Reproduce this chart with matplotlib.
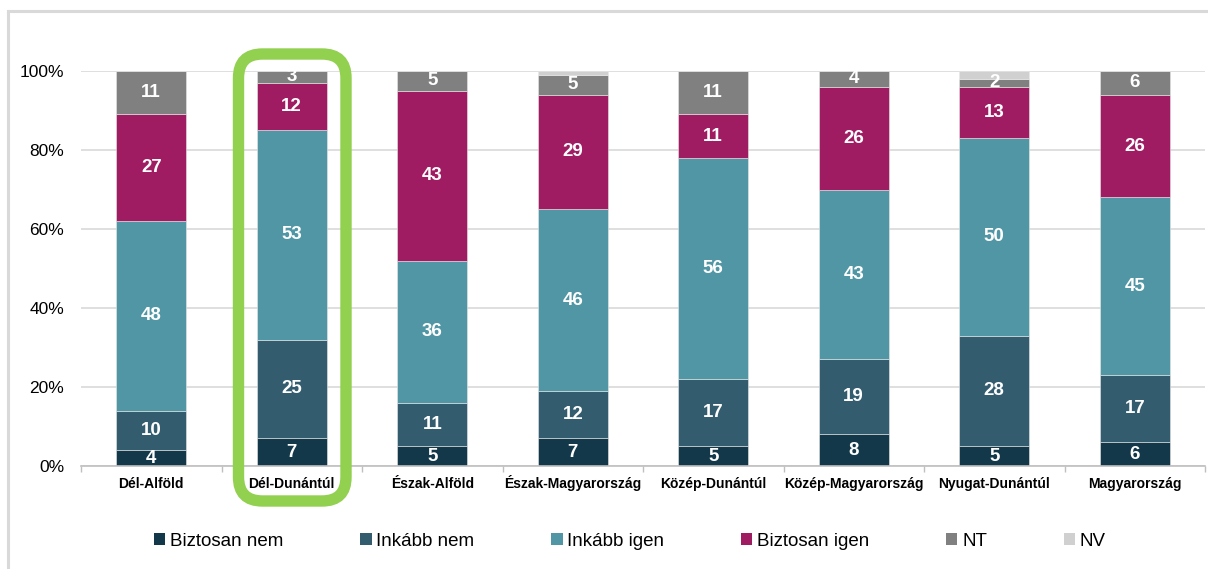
import matplotlib
matplotlib.use("Agg")
import matplotlib.pyplot as plt
import numpy as np
from matplotlib.patches import FancyBboxPatch, Patch
from matplotlib.lines import Line2D
from matplotlib.transforms import IdentityTransform

plt.rcParams['font.family'] = ['Liberation Sans', 'DejaVu Sans']

categories = ["Dél-Alföld", "Dél-Dunántúl", "Észak-Alföld", "Észak-Magyarország",
              "Közép-Dunántúl", "Közép-Magyarország", "Nyugat-Dunántúl", "Magyarország"]
series_names = ["Biztosan nem", "Inkább nem", "Inkább igen", "Biztosan igen", "NT", "NV"]
biztosan_nem = [4, 7, 5, 7, 5, 8, 5, 6]
inkabb_nem = [10, 25, 11, 12, 17, 19, 28, 17]
inkabb_igen = [48, 53, 36, 46, 56, 43, 50, 45]
biztosan_igen = [27, 12, 43, 29, 11, 26, 13, 26]
nt = [11, 3, 5, 5, 11, 4, 2, 6]
nv = [0, 0, 0, 1, 0, 0, 2, 0]
yticks = [0, 20, 40, 60, 80, 100]
colors = ["#12384a", "#335c6e", "#5196a5", "#a01c62", "#808080", "#d0d0d0"]

data = [biztosan_nem, inkabb_nem, inkabb_igen, biztosan_igen, nt, nv]

W, H = 1208, 569
fig = plt.figure(figsize=(W / 100, H / 100), dpi=100)
ax_left, ax_right, ax_top, ax_bottom = 81, 1205, 71, 466
ax = fig.add_axes([ax_left / W, (H - ax_bottom) / H, (ax_right - ax_left) / W, (ax_bottom - ax_top) / H])

x = np.arange(len(categories))
bottom = np.zeros(len(categories))
for vals, col, name in zip(data, colors, series_names):
    v = np.array(vals, dtype=float)
    ax.bar(x, v, 0.5, bottom=bottom, color=col, edgecolor="#e8e8e8", linewidth=0.4, label=name, zorder=3)
    if name != "NV":
        for xi, (b, h) in enumerate(zip(bottom, v)):
            if h > 0:
                ax.text(xi, b + h / 2, f"{int(h)}", ha="center", va="center", color="white",
                        fontsize=13.5, fontweight="bold", zorder=4)
    bottom += v

ax.set_xlim(-0.5, len(categories) - 0.5)
ax.set_ylim(0, 100)
ax.set_yticks(yticks)
ax.set_yticklabels([f"{t}%" for t in yticks], fontsize=12.5)
ax.tick_params(axis="y", length=0, pad=12)
ax.set_xticks(x)
ax.set_xticklabels(categories, fontsize=10, fontweight="bold")
for lab in ax.get_xticklabels():
    lab.set_verticalalignment("baseline")
ax.tick_params(axis="x", length=0, pad=15.5)
ax.set_xticks(np.arange(-0.5, len(categories)), minor=True)
ax.tick_params(axis="x", which="minor", length=4, color="#bfbfbf", width=1)
ax.grid(axis="y", color="#d9d9d9", linewidth=1.2, zorder=0)
for s in ["top", "right", "left"]:
    ax.spines[s].set_visible(False)
ax.spines["bottom"].set_color("#bfbfbf")
ax.spines["bottom"].set_linewidth(1.2)
ax.spines["bottom"].set_zorder(5)

# green highlight box (display pixel coordinates, origin bottom-left)
left, right, top, bot = 238.5, 346, 54, 501
box = FancyBboxPatch((left, H - bot), right - left, bot - top,
                     boxstyle="round,pad=0,rounding_size=24",
                     transform=IdentityTransform(), fill=False,
                     edgecolor="#92d050", linewidth=8.2, zorder=10)
fig.add_artist(box)

# chart frame (top and left lines)
fig.add_artist(Line2D([8 / W, 1.0], [(H - 11) / H, (H - 11) / H], transform=fig.transFigure,
                      color="#d9d9d9", linewidth=2.2))
fig.add_artist(Line2D([8 / W, 8 / W], [0, (H - 11) / H], transform=fig.transFigure,
                      color="#d9d9d9", linewidth=2.2))

handles = [Patch(facecolor=c, edgecolor="none") for c in colors]
fig.legend(handles, series_names, loc="center", bbox_to_anchor=(630 / W, (H - 541) / H),
           ncol=6, frameon=False, fontsize=13.5, handlelength=0.6, handleheight=0.6,
           handletextpad=0.25, columnspacing=4.1)

fig.savefig("out.png", dpi=100)
